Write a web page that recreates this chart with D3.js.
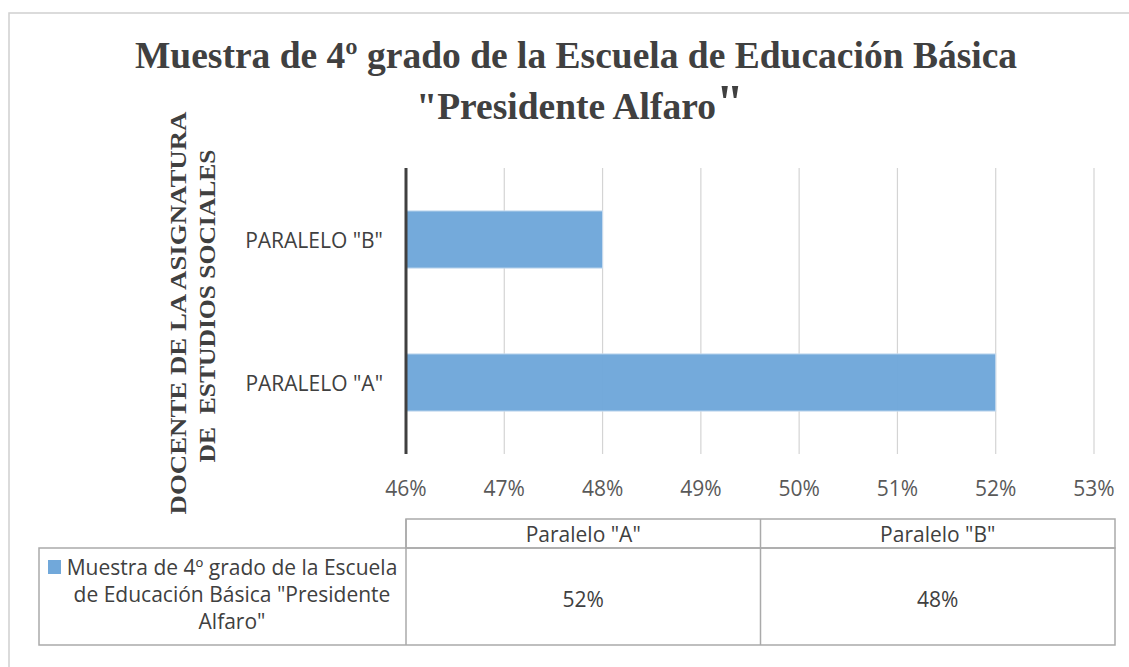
<!DOCTYPE html>
<html>
<head>
<meta charset="utf-8">
<script src="https://cdn.jsdelivr.net/npm/d3@7"></script>
<style>
  html, body { margin: 0; padding: 0; background: #fff; }
  svg { display: block; }
</style>
</head>
<body>
<svg id="chart" width="1129" height="667"></svg>
<script>
// ---- data ----
const categories = ['PARALELO "A"', 'PARALELO "B"'];
const tableHeaders = ['Paralelo "A"', 'Paralelo "B"'];
const values = [0.52, 0.48];
const tickValues = [0.46, 0.47, 0.48, 0.49, 0.50, 0.51, 0.52, 0.53];
const titleLines = ['Muestra de 4º grado de la Escuela de Educación Básica', '"Presidente Alfaro', '"'];
const yTitleLines = ['DOCENTE DE LA ASIGNATURA', 'DE  ESTUDIOS SOCIALES'];
const legendLines = ['Muestra de 4º grado de la Escuela', 'de Educación Básica "Presidente', 'Alfaro"'];

const svg = d3.select('#chart');
const textColor = '#404040';
const barColor = '#71a8da';
const sans = '"Open Sans", "Noto Sans", sans-serif';
const serif = '"Liberation Serif", "Times New Roman", serif';
const fs = 21;

// outer chart border
svg.append('rect').attr('x', 9).attr('y', 13).attr('width', 1140).attr('height', 700)
  .attr('fill', 'none').attr('stroke', '#d0d0d0').attr('stroke-width', 1.5);

// title
const title = svg.append('g').attr('fill', textColor).attr('font-family', serif).attr('font-weight', 'bold');
title.append('text').attr('x', 576).attr('y', 68).attr('text-anchor', 'middle')
  .attr('font-size', 37.5).text(titleLines[0]);
const t2 = title.append('text').attr('x', 580).attr('y', 119).attr('text-anchor', 'middle').attr('font-size', 37.5);
t2.append('tspan').text(titleLines[1]);
t2.append('tspan').attr('font-size', 50).text(titleLines[2]);

// scales
const x = d3.scaleLinear().domain([0.46, 0.53]).range([406, 1094]);
const y = d3.scaleBand().domain(['PARALELO "B"', 'PARALELO "A"']).range([168, 454])
  .paddingInner(0.6).paddingOuter(0.3);

// gridlines
svg.append('g').selectAll('line').data(tickValues.slice(1)).join('line')
  .attr('x1', d => x(d)).attr('x2', d => x(d))
  .attr('y1', 168).attr('y2', 454)
  .attr('stroke', '#d4d4d4').attr('stroke-width', 1.2);

// bars
svg.append('g').selectAll('rect').data(categories).join('rect')
  .attr('x', x(0.46))
  .attr('y', d => y(d))
  .attr('width', (d, i) => x(values[i]) - x(0.46))
  .attr('height', y.bandwidth())
  .attr('fill', barColor).attr('fill-opacity', 0.98)
  .attr('stroke', '#c9dcf0').attr('stroke-width', 1);

// vertical axis line
svg.append('line').attr('x1', x(0.46)).attr('x2', x(0.46)).attr('y1', 168).attr('y2', 454)
  .attr('stroke', '#404040').attr('stroke-width', 3);

// x tick labels
svg.append('g').selectAll('text').data(tickValues).join('text')
  .attr('x', d => x(d)).attr('y', 488)
  .attr('text-anchor', 'middle').attr('dominant-baseline', 'central')
  .attr('font-family', sans).attr('font-size', fs).attr('fill', '#595959')
  .text(d => d3.format('.0%')(d));

// category labels
svg.append('g').selectAll('text').data(categories).join('text')
  .attr('x', 383).attr('y', d => y(d) + y.bandwidth() / 2)
  .attr('text-anchor', 'end').attr('dominant-baseline', 'central')
  .attr('font-family', sans).attr('font-size', fs).attr('fill', textColor)
  .text(d => d);

// y axis title
const yt = svg.append('g').attr('fill', textColor).attr('font-family', serif)
  .attr('font-weight', 'bold').attr('font-size', 24);
yt.append('text').attr('transform', 'translate(178,313) rotate(-90)')
  .attr('text-anchor', 'middle').attr('dominant-baseline', 'central')
  .attr('textLength', 403).attr('lengthAdjust', 'spacingAndGlyphs').text(yTitleLines[0]);
yt.append('text').attr('transform', 'translate(207,306) rotate(-90)')
  .attr('text-anchor', 'middle').attr('dominant-baseline', 'central')
  .attr('textLength', 313).attr('lengthAdjust', 'spacingAndGlyphs')
  .style('white-space', 'pre').text(yTitleLines[1]);

// data table
const colX = d3.scaleBand().domain(tableHeaders).range([406, 1115]);
const tbl = svg.append('g');
const border = '#aaaaaa';
// header row
tbl.append('rect').attr('x', 406).attr('y', 519).attr('width', 1115 - 406).attr('height', 548 - 519)
  .attr('fill', 'none').attr('stroke', border).attr('stroke-width', 1.5);
// body row
tbl.append('rect').attr('x', 39).attr('y', 548).attr('width', 1115 - 39).attr('height', 645 - 548)
  .attr('fill', 'none').attr('stroke', border).attr('stroke-width', 1.5);
// column dividers
tbl.selectAll('line.col').data(tableHeaders).join('line').attr('class', 'col')
  .attr('x1', d => colX(d)).attr('x2', d => colX(d)).attr('y1', 519).attr('y2', 645)
  .attr('stroke', border).attr('stroke-width', 1.5);
// headers
tbl.selectAll('text.hdr').data(tableHeaders).join('text').attr('class', 'hdr')
  .attr('x', d => colX(d) + colX.bandwidth() / 2).attr('y', 534)
  .attr('text-anchor', 'middle').attr('dominant-baseline', 'central')
  .attr('font-family', sans).attr('font-size', fs).attr('fill', textColor)
  .text(d => d);
// values
tbl.selectAll('text.val').data(values).join('text').attr('class', 'val')
  .attr('x', (d, i) => colX(tableHeaders[i]) + colX.bandwidth() / 2).attr('y', 599)
  .attr('text-anchor', 'middle').attr('dominant-baseline', 'central')
  .attr('font-family', sans).attr('font-size', fs).attr('fill', textColor)
  .text(d => d3.format('.0%')(d));
// legend key + series name
tbl.append('rect').attr('x', 48).attr('y', 560).attr('width', 13).attr('height', 14).attr('fill', barColor);
tbl.selectAll('text.leg').data(legendLines).join('text').attr('class', 'leg')
  .attr('x', 232).attr('y', (d, i) => 567 + i * 27)
  .attr('text-anchor', 'middle').attr('dominant-baseline', 'central')
  .attr('font-family', sans).attr('font-size', fs).attr('fill', textColor)
  .text(d => d);
</script>
</body>
</html>
